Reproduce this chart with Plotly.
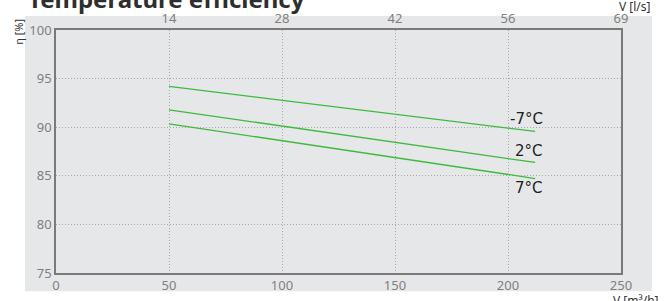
import plotly.graph_objects as go

# Data
flow_m3h = [50, 212]
eff_m7 = [94.2, 89.57]
eff_2 = [91.79, 86.37]
eff_7 = [90.35, 84.72]
series_names = ["-7°C", "2°C", "7°C"]
label_y = [90.83, 87.54, 83.73]
label_x = 216.4

x_ticks = [0, 50, 100, 150, 200, 250]
y_ticks = [75, 80, 85, 90, 95, 100]
top_tickvals = [50, 100, 150, 200, 250]
top_ticktext = ["14", "28", "42", "56", "69"]

GREEN = "#3dba3d"
FONT = "Noto Sans"

fig = go.Figure()
for name, vals in zip(series_names, [eff_m7, eff_2, eff_7]):
    fig.add_trace(go.Scatter(x=flow_m3h, y=vals, mode="lines", name=name,
                             line=dict(color=GREEN, width=1.3), showlegend=False,
                             hoverinfo="skip"))
# invisible trace for top axis
fig.add_trace(go.Scatter(x=[0, 250], y=[75, 75], xaxis="x2", mode="lines",
                         line=dict(width=0), showlegend=False, hoverinfo="skip"))

for name, yv in zip(series_names, label_y):
    fig.add_annotation(x=label_x, y=yv, text=name, showarrow=False,
                       xanchor="right", yanchor="middle",
                       font=dict(family="DejaVu Sans", size=15, color="#1e1e1e"))

axis_common = dict(showline=True, linecolor="#7a7a7a", linewidth=1.5,
                   ticks="", tickfont=dict(family=FONT, size=13, color="#808080"),
                   zeroline=False, automargin=False)
grid_common = dict(showgrid=True, gridcolor="#a8a8a8", griddash="1px,2px", gridwidth=1)

fig.update_layout(
    width=665, height=301,
    margin=dict(l=56, r=44, t=30, b=28, autoexpand=False),
    paper_bgcolor="white",
    plot_bgcolor="#e6e7e8",
    xaxis=dict(range=[0, 250], tickvals=x_ticks, mirror=False,
               **grid_common, **axis_common),
    xaxis2=dict(range=[0, 250], tickvals=top_tickvals, ticktext=top_ticktext,
                overlaying="x", side="top", showgrid=False, anchor="y",
                **axis_common),
    yaxis=dict(range=[75, 100], tickvals=y_ticks, mirror=True,
               **grid_common, **axis_common),
    shapes=[dict(type="rect", xref="paper", yref="paper",
                 x0=-0.0549, x1=1.0549, y0=-0.0754, y1=1.0577,
                 fillcolor="#e6e7e8", line=dict(width=0), layer="below")],
)

fig.add_annotation(xref="paper", yref="paper", x=-0.053, y=1.055,
                   text="<b>Temperature efficiency</b>", showarrow=False,
                   xanchor="left", yanchor="bottom",
                   font=dict(family=FONT, size=24, color="#2e2e2e"))
fig.add_annotation(xref="paper", yref="paper", x=1.056, y=1.055,
                   text="V [l/s]", showarrow=False, xanchor="right", yanchor="bottom",
                   font=dict(family=FONT, size=12, color="#333"))
fig.add_annotation(xref="paper", yref="paper", x=1.07, y=-0.07,
                   text="V [m³/h]", showarrow=False, xanchor="right", yanchor="top",
                   font=dict(family=FONT, size=12, color="#333"))
fig.add_annotation(xref="paper", yref="paper", x=-0.0655, y=1.054,
                   text="η [%]", showarrow=False, textangle=-90,
                   xanchor="center", yanchor="top",
                   font=dict(family=FONT, size=11, color="#333"))

fig.write_html("out.html", config={"displayModeBar": False},
               post_script="document.body.style.margin='0';document.body.style.overflow='hidden';")
